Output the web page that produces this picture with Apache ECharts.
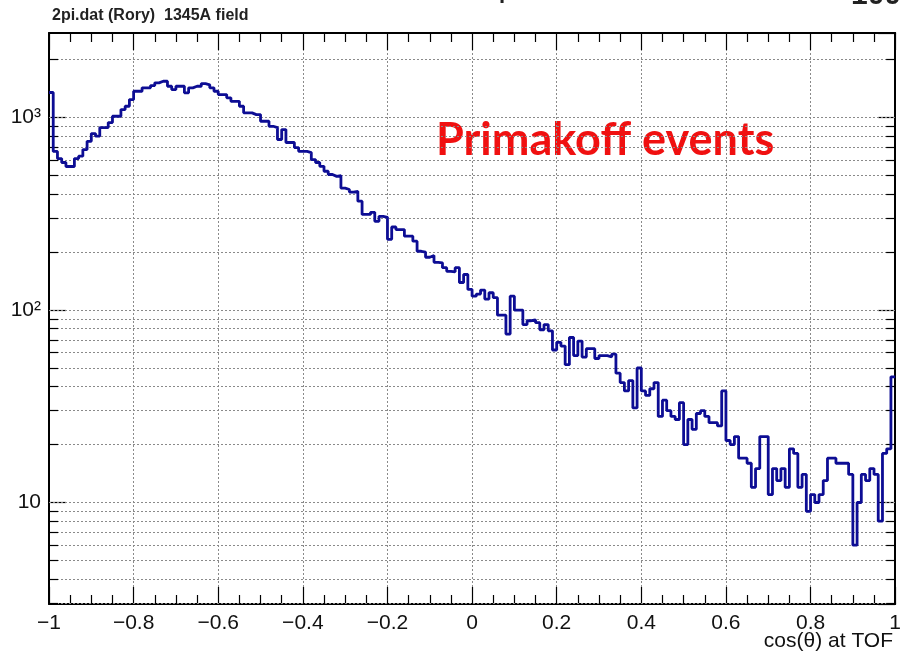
<!DOCTYPE html>
<html><head><meta charset="utf-8">
<script src="https://cdn.jsdelivr.net/npm/echarts@6/dist/echarts.min.js"></script>
<style>html,body{margin:0;padding:0;background:#fff}#c{width:904px;height:660px}</style>
</head><body><div id="c"></div>
<script>
// ---- data ----
const xMin = -1, xMax = 1, binWidth = 0.01;
const yMin = 2.97, yMax = 2750;
const xTickStep = 0.2;
const titleText = '2pi.dat (Rory)  1345A field';
const xAxisTitle = 'cos(\u03B8) at TOF';
const annotation = 'Primakoff events';
// counts per bin, split by 0.2-wide ranges of cos(theta)
const countsM10toM08 = [1350,667,612,584,557,557,612,630,682,753,826,800,887,887,942,1016,1016,1100,1145,1240];
const countsM08toM06 = [1370,1370,1427,1427,1467,1515,1544,1544,1454,1398,1454,1454,1344,1427,1454,1454,1502,1480,1427,1370];
const countsM06toM04 = [1317,1317,1266,1215,1215,1145,1058,1058,1036,1036,957,957,901,887,769,866,742,742,698,668];
const countsM04toM02 = [668,658,605,584,558,526,506,495,500,430,423,410,414,368,314,314,322,289,307,303];
const countsM02to00  = [233,270,262,262,242,242,228,202,200,188,192,177,176,166,159,158,166,139,153,128];
const counts00to02   = [118,121,127,114,123,116,94,94,75,118,100,100,84,88,89,86,79,84,78,62];
const counts02to04   = [68,65,52,72,58,69,57,63,63,56,58,58,57,59,47,42,38,43,31,50];
const counts04to06   = [38,36,39,42,28,34,30,28,27,33,20,27,24,29,30,28,26,26,25,38];
const counts06to08   = [21,20,22,17,17,16,12,15,22,22,11,15,13,15,12,19,18,12,14,9];
const counts08to10   = [11,10,11,13,17,17,16,16,16,14,6,10,14,13,15,14,8,18,19,45];

const counts = [].concat(countsM10toM08, countsM08toM06, countsM06toM04, countsM04toM02, countsM02to00,
  counts00to02, counts02to04, counts04to06, counts06to08, counts08to10);

// step outline of the histogram (bin edges)
const stepData = [];
counts.forEach((c, i) => {
  const x0 = +(xMin + i * binWidth).toFixed(4);
  const x1 = +(xMin + (i + 1) * binWidth).toFixed(4);
  stepData.push([x0, c], [x1, c]);
});

// log-axis grid values (1..9 x 10^n) inside range
const gridVals = [];
for (let d = 0; d <= 3; d++) for (let m = 1; m <= 9; m++) {
  const v = m * Math.pow(10, d);
  if (v > yMin && v < yMax) gridVals.push(v);
}
const minorVals = gridVals.filter(v => Math.abs(Math.log10(v) - Math.round(Math.log10(v))) > 1e-9);
const dxMinor = 9 / 847 * (xMax - xMin);

const gridLine = { color: '#8a8a8a', width: 1, type: [2, 2] };
const markGrid = gridVals.map(v => ({ yAxis: v, lineStyle: gridLine }));
const tickStyle = { color: '#000', width: 1.2, type: 'solid' };
const markTicks = [];
minorVals.forEach(v => {
  markTicks.push([{ coord: [xMin, v], lineStyle: tickStyle }, { coord: [xMin + dxMinor, v] }]);
  markTicks.push([{ coord: [xMax - dxMinor, v], lineStyle: tickStyle }, { coord: [xMax, v] }]);
});

const sup = { 2: '\u00B2', 3: '\u00B3' };
const font = '"Liberation Sans", Arial, sans-serif';

const chart = echarts.init(document.getElementById('c'), null, { renderer: 'canvas' });
const axisLine = { show: true, onZero: false, lineStyle: { color: '#000', width: 2 } };
chart.setOption({
  animation: false,
  backgroundColor: '#fff',
  grid: { left: 49, right: 8, top: 33, bottom: 56, containLabel: false },
  xAxis: [{
    type: 'value', min: xMin, max: xMax, interval: xTickStep, position: 'bottom',
    axisLine: axisLine,
    axisTick: { show: true, inside: true, length: 17, lineStyle: { color: '#000', width: 1.2 } },
    minorTick: { show: true, splitNumber: 4, length: 9, lineStyle: { color: '#000', width: 1.2 } },
    splitLine: { show: true, lineStyle: gridLine },
    axisLabel: {
      margin: 9, fontSize: 21, color: '#111', fontFamily: font,
      formatter: v => { const r = Math.round(v * 10) / 10; if (r === 0) return '0'; return (r < 0 ? '\u2212' : '') + String(Math.abs(r)); }
    }
  }, {
    type: 'value', min: xMin, max: xMax, interval: xTickStep, position: 'top',
    axisLine: axisLine,
    axisTick: { show: true, inside: true, length: 17, lineStyle: { color: '#000', width: 1.2 } },
    minorTick: { show: true, splitNumber: 4, length: 9, lineStyle: { color: '#000', width: 1.2 } },
    splitLine: { show: false }, axisLabel: { show: false }
  }],
  yAxis: [{
    type: 'log', logBase: 10, min: yMin, max: yMax, position: 'left',
    axisLine: axisLine,
    axisTick: { show: true, inside: true, length: 17, lineStyle: { color: '#000', width: 1.2 } },
    splitLine: { show: false },
    axisLabel: {
      margin: 8, fontSize: 21, color: '#111', fontFamily: font, showMinLabel: false, showMaxLabel: false,
      formatter: v => { const l = Math.log10(v); const e = Math.round(l); if (Math.abs(l - e) > 1e-6) return ''; return e === 1 ? '10' : '10' + (sup[e] || ''); }
    }
  }, {
    type: 'log', logBase: 10, min: yMin, max: yMax, position: 'right',
    axisLine: axisLine,
    axisTick: { show: true, inside: true, length: 17, lineStyle: { color: '#000', width: 1.2 } },
    splitLine: { show: false }, axisLabel: { show: false }
  }],
  series: [{
    type: 'line', data: [[xMin, 100]], showSymbol: false, silent: true, z: 1,
    lineStyle: { opacity: 0 },
    markLine: { silent: true, symbol: ['none', 'none'], label: { show: false }, animation: false,
      data: markGrid.concat(markTicks) }
  }, {
    type: 'line', data: stepData, showSymbol: false, silent: true, z: 5,
    lineStyle: { color: '#0d0d94', width: 2.8 }
  }],
  graphic: [
    { type: 'text', left: 52, top: 8, style: { text: titleText, font: 'bold 16px ' + font, fill: '#222' } },
    { type: 'text', left: 851, top: -19, style: { text: '100', font: 'bold 30px ' + font, fill: '#222' } },
    { type: 'text', left: 499, top: -19, style: { text: 'p', font: 'bold 22px ' + font, fill: '#222' } },
    { type: 'text', right: 11, top: 631, style: { text: xAxisTitle, font: '21px ' + font, fill: '#111' } },
    { type: 'text', left: 436, top: 118, style: { text: annotation, font: 'bold 45px Lato, "Open Sans", sans-serif', fill: '#f01010' } }
  ]
});
</script></body></html>
